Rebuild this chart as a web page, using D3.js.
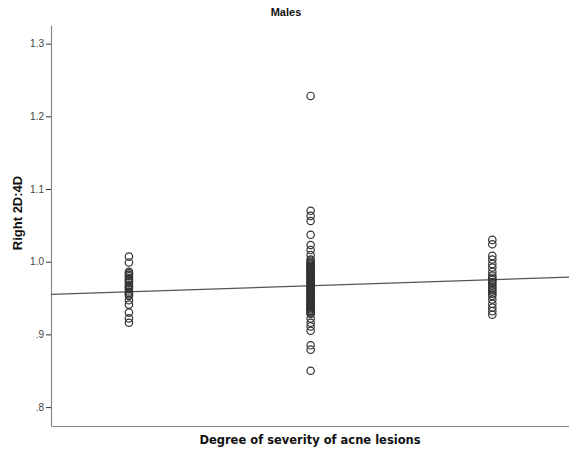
<!DOCTYPE html>
<html>
<head>
<meta charset="utf-8">
<script src="https://cdn.jsdelivr.net/npm/d3@7/dist/d3.min.js"></script>
<style>
  html, body { margin: 0; padding: 0; background: #fff; }
  svg { display: block; }
</style>
</head>
<body>
<svg id="chart" width="569" height="453"></svg>
<script>
// ---- data ----
const categories = [1, 2, 3];
const group1 = [1.007, 0.999, 0.986, 0.984, 0.982, 0.980, 0.977, 0.975, 0.973, 0.971, 0.968, 0.966, 0.964, 0.962, 0.959, 0.957, 0.955, 0.953, 0.947, 0.941, 0.930, 0.922, 0.916];
const group2 = [1.228, 1.070, 1.063, 1.056, 1.037, 1.023, 1.016, 1.009,
  1.003, 1.0015, 0.999, 0.9975, 0.996, 0.9945, 0.993, 0.9915, 0.990, 0.9885, 0.987, 0.9855, 0.984, 0.9825,
  0.981, 0.9795, 0.978, 0.9765, 0.975, 0.9735, 0.972, 0.9705, 0.969, 0.9675, 0.966, 0.9645, 0.963, 0.9615,
  0.960, 0.9585, 0.957, 0.9555, 0.954, 0.9525, 0.951, 0.9495, 0.948, 0.9465, 0.945, 0.9435, 0.942, 0.9405,
  0.939, 0.9375, 0.936, 0.9345, 0.933, 0.9315, 0.930,
  0.928, 0.922, 0.916, 0.911, 0.905, 0.885, 0.879, 0.850];
const group3 = [1.030, 1.024, 1.008, 1.003, 0.997, 0.992, 0.986, 0.981, 0.978, 0.975, 0.972, 0.970, 0.967, 0.964, 0.961, 0.959, 0.956, 0.953, 0.948, 0.942, 0.937, 0.932, 0.927];
const seriesValues = [group1, group2, group3];
const tickValues = [0.8, 0.9, 1.0, 1.1, 1.2, 1.3];
const tickLabels = [".8", ".9", "1.0", "1.1", "1.2", "1.3"];
const fitIntercept = 0.9503;
const fitSlope = 0.0083;
const titleText = "Males";
const xTitle = "Degree of severity of acne lesions";
const yTitle = "Right 2D:4D";

// ---- layout ----
const svg = d3.select("#chart");
const mLeft = 51, mRight = 569, mTop = 25, mBottom = 426;

const x = d3.scaleLinear().domain([0.571, 3.422]).range([mLeft, mRight]);
const y = d3.scaleLinear().domain([0.774, 1.3256]).range([mBottom, mTop]);

// y axis
const yAxis = d3.axisLeft(y)
  .tickValues(tickValues)
  .tickFormat((d, i) => tickLabels[i])
  .tickSize(5)
  .tickSizeOuter(0)
  .tickPadding(2);
const gy = svg.append("g").attr("transform", `translate(${mLeft},0)`).call(yAxis);
gy.select(".domain").attr("stroke", "#888").attr("stroke-width", 1.2);
gy.selectAll(".tick line").attr("stroke", "#333").attr("stroke-width", 1);
gy.selectAll(".tick text")
  .attr("fill", "#444")
  .style("font-family", "'Liberation Sans', Arial, sans-serif")
  .style("font-size", "10px");

// x axis (no ticks)
const xAxis = d3.axisBottom(x).tickValues([]).tickSizeOuter(0);
const gx = svg.append("g").attr("transform", `translate(0,${mBottom})`).call(xAxis);
gx.select(".domain").attr("stroke", "#888").attr("stroke-width", 1.2);

// regression line
const xd = x.domain();
svg.append("line")
  .attr("x1", x(xd[0])).attr("y1", y(fitIntercept + fitSlope * xd[0]))
  .attr("x2", x(xd[1])).attr("y2", y(fitIntercept + fitSlope * xd[1]))
  .attr("stroke", "#555").attr("stroke-width", 1.2);

// points
const pts = [];
seriesValues.forEach((vals, i) => vals.forEach(v => pts.push({c: categories[i], v})));
svg.append("g").selectAll("circle").data(pts).join("circle")
  .attr("cx", d => x(d.c))
  .attr("cy", d => y(d.v))
  .attr("r", 3.7)
  .attr("fill", "none")
  .attr("stroke", "#333")
  .attr("stroke-width", 1.2);

// titles
svg.append("text")
  .attr("x", 286).attr("y", 16)
  .attr("text-anchor", "middle")
  .style("font-family", "'Liberation Sans', Arial, sans-serif")
  .style("font-weight", "bold").style("font-size", "11px")
  .attr("fill", "#111")
  .text(titleText);

svg.append("text")
  .attr("x", (mLeft + mRight) / 2).attr("y", 444)
  .attr("text-anchor", "middle")
  .style("font-family", "'DejaVu Sans', sans-serif")
  .style("font-weight", "bold").style("font-size", "11.5px")
  .attr("fill", "#111")
  .text(xTitle);

svg.append("text")
  .attr("transform", "translate(22,213) rotate(-90)")
  .attr("text-anchor", "middle")
  .style("font-family", "'Liberation Sans', Arial, sans-serif")
  .style("font-weight", "bold").style("font-size", "13px")
  .attr("fill", "#111")
  .text(yTitle);
</script>
</body>
</html>
